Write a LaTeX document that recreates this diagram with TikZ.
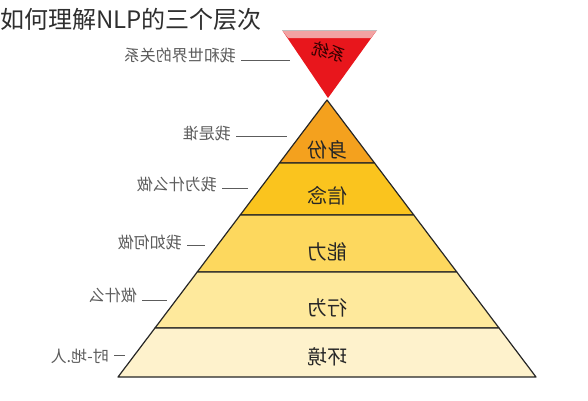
\documentclass[tikz,border=0pt]{standalone}
\usepackage{fontspec}
\newfontfamily\cjk{Noto Sans CJK SC}
\definecolor{titlegray}{HTML}{2E2E2E}
\definecolor{labelgray}{HTML}{5C5C5C}
\definecolor{sysred}{HTML}{E8161C}
\definecolor{syspink}{HTML}{F2A3A3}
\definecolor{lvA}{HTML}{F4A11E}
\definecolor{lvB}{HTML}{FAC41E}
\definecolor{lvC}{HTML}{FDD85E}
\definecolor{lvD}{HTML}{FEE99C}
\definecolor{lvE}{HTML}{FEF2CC}
\begin{document}
\begin{tikzpicture}[x=1pt, y=-1pt,
  layer/.style={draw=black!85, line width=1.2pt, line join=round},
  word/.style={font=\cjk\fontsize{20}{20}\selectfont, text=black!85, inner sep=1pt},
  tag/.style={font=\cjk\fontsize{16}{16}\selectfont, text=labelgray, inner sep=1pt, anchor=east},
  lead/.style={draw=labelgray, line width=1pt}
]
\useasboundingbox (0,0) rectangle (588,400);
\node[anchor=north west, inner sep=0pt, font=\cjk\fontsize{24}{24}\selectfont, text=titlegray] (title) at (0,8) {如何理解NLP的三个层次};

% system triangle on top
\fill[sysred] (282,30) -- (377,30) -- (328,98) -- cycle;
\fill[syspink] (282,30) -- (377,30) -- (371,38) -- (288,38) -- cycle;
\draw[gray!50, line width=0.8pt] (282,30) -- (377,30);
\node[font=\cjk\fontsize{17}{17}\selectfont, text=black!80!red, rotate=-15] (sys) at (329,52) {\reflectbox{系统}};

% pyramid layers
\foreach \a/\b/\c in {100/163/lvA,163/215/lvB,215/272/lvC,272/328/lvD,328/377/lvE} {
  \filldraw[layer, fill=\c] ({327-0.7545*(\a-100)},\a) -- ({327+0.7545*(\a-100)},\a)
    -- ({327+0.7545*(\b-100)},\b) -- ({327-0.7545*(\b-100)},\b) -- cycle;
}
\foreach \y/\w/\n in {150/身份/sf,196/信念/xn,252/能力/nl,308/行为/xw,357/环境/hj}
  \node[word] (\n) at (327,\y) {\reflectbox{\w}};

% side notes
\node[tag] (tWorld) at (237,55) {\reflectbox{我和世界的关系}};
\node[tag] (tWho) at (232,133) {\reflectbox{我是谁}};
\node[tag] (tWhy) at (218,184) {\reflectbox{我为什么做}};
\node[tag] (tHow) at (183,242) {\reflectbox{我如何做}};
\node[tag] (tWhat) at (138,295) {\reflectbox{做什么}};
\node[tag] (tWhere) at (110,356) {\reflectbox{时-地.人}};
\coordinate (eWorld) at (290,60);
\coordinate (eWho) at (287,136);
\coordinate (eWhy) at (248,188);
\coordinate (eHow) at (205,245);
\coordinate (eWhat) at (167,300);
\coordinate (eWhere) at (125,355);
\foreach \t/\e in {tWorld/eWorld,tWho/eWho,tWhy/eWhy,tHow/eHow,tWhat/eWhat,tWhere/eWhere}
  \draw[lead] ([xshift=4pt]\t.east |- \e) -- (\e);
\end{tikzpicture}
\end{document}
